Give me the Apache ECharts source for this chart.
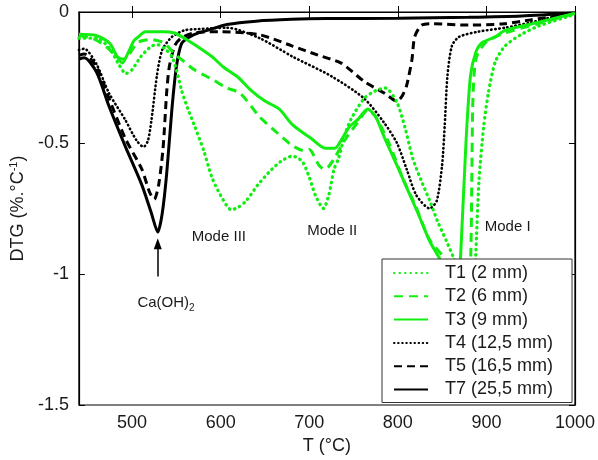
<!DOCTYPE html>
<html>
<head>
<meta charset="utf-8">
<script src="https://cdn.jsdelivr.net/npm/echarts@6/dist/echarts.min.js"></script>
<style>
  html, body { margin: 0; padding: 0; background: #fff; }
  #chart { width: 598px; height: 460px; }
</style>
</head>
<body>
<div id="chart"></div>
<script>
// DTG curves of the samples, [temperature (°C), DTG (%.°C-1)]
const xTicks = [500, 600, 700, 800, 900, 1000];
const yTicks = [0, -0.5, -1, -1.5];
const seriesNames = ['T1 (2 mm)', 'T2 (6 mm)', 'T3 (9 mm)', 'T4 (12,5 mm)', 'T5 (16,5 mm)', 'T7 (25,5 mm)'];

const t1 = [[440,-0.1],[460,-0.1],[475,-0.14],[485,-0.2],[493,-0.235],[500,-0.22],[510,-0.17],[522,-0.13],[529,-0.125],[537,-0.14],[545,-0.17],[550,-0.22],[556,-0.3],[563,-0.37],[570,-0.43],[581,-0.53],[590,-0.63],[600,-0.7],[612,-0.755],[620,-0.745],[629,-0.72],[642,-0.66],[655,-0.61],[668,-0.57],[681,-0.55],[692,-0.57],[700,-0.63],[707,-0.7],[716,-0.75],[722,-0.7],[728,-0.6],[733,-0.56],[740,-0.47],[747,-0.41],[762,-0.33],[775,-0.3],[786,-0.29],[799,-0.345],[808,-0.44],[817,-0.56],[826,-0.64],[836,-0.72],[845,-0.8],[855,-0.875],[863,-0.94],[872,-1.05],[880,-1.12],[886,-1.05],[888,-0.925],[891.6,-0.645],[897,-0.435],[902.4,-0.305],[910,-0.19],[921,-0.13],[938.7,-0.087],[958,-0.055],[994,-0.015],[1000,-0.008]];

const t2 = [[440,-0.09],[455,-0.1],[470,-0.13],[483,-0.17],[490,-0.18],[497,-0.16],[505,-0.12],[511,-0.11],[522,-0.105],[530,-0.11],[537,-0.12],[548,-0.16],[559,-0.19],[570,-0.22],[592,-0.26],[607,-0.29],[622,-0.31],[644,-0.4],[660,-0.45],[681,-0.51],[695,-0.53],[700,-0.525],[711,-0.585],[717,-0.6],[722,-0.59],[729,-0.555],[740,-0.49],[755,-0.42],[766,-0.375],[775,-0.4],[790,-0.5],[805,-0.63],[820,-0.74],[836,-0.87],[855,-0.95],[866,-1.05],[874,-1.1],[880,-1.05],[882.4,-0.925],[883.6,-0.62],[884.5,-0.37],[886,-0.245],[889,-0.17],[899,-0.117],[921,-0.08],[958,-0.045],[1000,-0.005]];

const t3 = [[440,-0.085],[460,-0.09],[475,-0.12],[483,-0.17],[489,-0.195],[495,-0.16],[502,-0.11],[507,-0.095],[515,-0.075],[535,-0.075],[548,-0.08],[559,-0.1],[573,-0.13],[590,-0.17],[603,-0.21],[620,-0.25],[633,-0.295],[650,-0.34],[666,-0.37],[681,-0.43],[703,-0.485],[718,-0.52],[729,-0.52],[736,-0.49],[745,-0.44],[755,-0.41],[766,-0.37],[775,-0.4],[785,-0.48],[799,-0.585],[810,-0.67],[823,-0.77],[836,-0.875],[847,-0.94],[858,-1.02],[865,-1.05],[869,-1.0],[871,-0.925],[877,-0.495],[882,-0.245],[888,-0.155],[895,-0.117],[910,-0.095],[921,-0.07],[958,-0.04],[994,-0.01],[1000,-0.005]];

const t4 = [[440,-0.145],[446,-0.14],[460,-0.2],[474,-0.31],[492,-0.41],[505,-0.49],[513,-0.515],[518,-0.49],[522,-0.41],[528,-0.245],[534,-0.145],[545,-0.095],[559,-0.07],[575,-0.065],[607,-0.06],[644,-0.1],[681,-0.17],[725,-0.245],[762,-0.33],[784,-0.42],[799,-0.5],[810,-0.6],[821,-0.7],[836,-0.75],[844,-0.72],[850,-0.585],[853,-0.43],[856,-0.245],[861,-0.13],[869,-0.095],[891,-0.075],[921,-0.06],[950,-0.04],[980,-0.015],[1000,-0.005]];

const t5 = [[440,-0.165],[446,-0.16],[460,-0.21],[474,-0.33],[492,-0.48],[511,-0.6],[520,-0.69],[525,-0.715],[530,-0.66],[535,-0.52],[539,-0.31],[542,-0.21],[548,-0.13],[555,-0.1],[570,-0.08],[600,-0.075],[644,-0.087],[681,-0.13],[710,-0.165],[736,-0.195],[762,-0.265],[785,-0.31],[799,-0.34],[805,-0.32],[810,-0.28],[816,-0.18],[819,-0.095],[827,-0.05],[840,-0.045],[880,-0.05],[920,-0.045],[950,-0.03],[980,-0.015],[1000,-0.005]];

const t7 = [[440,-0.18],[446,-0.175],[460,-0.23],[474,-0.36],[492,-0.51],[511,-0.66],[522,-0.77],[529,-0.84],[534,-0.77],[539,-0.62],[545,-0.37],[550,-0.21],[556,-0.12],[565,-0.095],[575,-0.08],[590,-0.065],[607,-0.048],[640,-0.035],[680,-0.028],[720,-0.025],[800,-0.024],[880,-0.02],[940,-0.015],[1000,-0.004]];

// Annotation anchors in data coordinates
const modeLabels = [['Mode III', 598, -0.86], ['Mode II', 726, -0.835], ['Mode I', 924, -0.82]];
const arrowFrom = [529, -1.01];
const arrowTo = [529, -0.885];
const caLabelAt = [506, -1.11];

const FONT = '"Liberation Sans", Arial, Helvetica, sans-serif';
const GREEN = '#12ee12';
const BLACK = '#000000';

const styles = [
  { color: GREEN, width: 3.3, type: [0.5, 5], cap: 'round' },
  { color: GREEN, width: 3, type: [9, 6], cap: 'butt' },
  { color: GREEN, width: 3, type: 'solid', cap: 'butt' },
  { color: BLACK, width: 2.6, type: [0.5, 3.6], cap: 'round' },
  { color: BLACK, width: 3, type: [8, 5], cap: 'butt' },
  { color: BLACK, width: 3, type: 'solid', cap: 'butt' }
];
const curves = [t1, t2, t3, t4, t5, t7];

const chart = echarts.init(document.getElementById('chart'), null, { renderer: 'canvas' });

const series = curves.map((d, i) => ({
  name: seriesNames[i],
  type: 'line',
  data: d,
  showSymbol: false,
  symbol: 'none',
  smooth: 0.25,
  lineStyle: styles[i],
  itemStyle: { color: styles[i].color },
  z: 2 + (i >= 3 ? 0 : 1)
}));

// Arrow pointing to the Ca(OH)2 peak
series[5].markLine = {
  silent: true,
  symbol: ['none', 'triangle'],
  symbolSize: [8, 11],
  label: { show: false },
  lineStyle: { color: '#000', width: 1.5, type: 'solid' },
  data: [[{ coord: arrowFrom }, { coord: arrowTo }]]
};

const tickStyle = { show: true, inside: true, length: 6, lineStyle: { color: '#000', width: 1 } };
const labelFont = { fontFamily: FONT, fontSize: 18, color: '#1a1a1a' };
const plainNumber = v => String(v);

chart.setOption({
  animation: false,
  backgroundColor: '#fff',
  grid: { left: 73, right: 20, top: 12, bottom: 51, show: true, borderColor: '#000', borderWidth: 1.2, backgroundColor: 'transparent' },
  legend: {
    data: seriesNames,
    orient: 'vertical',
    left: 382,
    top: 259,
    z: 10,
    backgroundColor: '#fff',
    borderColor: '#333',
    borderWidth: 1,
    borderRadius: 0,
    padding: [5, 19, 4, 11],
    itemWidth: 34,
    itemHeight: 14,
    itemGap: 5.3,
    itemStyle: { opacity: 0 },
    textStyle: { fontFamily: FONT, fontSize: 18, color: '#1a1a1a', lineHeight: 18, padding: [0, 0, 0, 12] }
  },
  xAxis: [{
    type: 'value', min: 440, max: 1000,
    name: 'T (\u00b0C)', nameLocation: 'middle', nameGap: 32,
    nameTextStyle: labelFont,
    axisLine: { show: true, lineStyle: { color: '#000', width: 1.2 } },
    axisTick: Object.assign({ customValues: xTicks }, tickStyle),
    axisLabel: Object.assign({ customValues: xTicks, margin: 9, formatter: plainNumber }, labelFont),
    splitLine: { show: false }
  }, {
    type: 'value', min: 440, max: 1000, position: 'top',
    axisLine: { show: true, lineStyle: { color: '#000', width: 1.2 } },
    axisTick: Object.assign({ customValues: xTicks }, tickStyle),
    axisLabel: { show: false },
    splitLine: { show: false }
  }],
  yAxis: [{
    type: 'value', min: -1.5, max: 0, interval: 0.5,
    name: 'DTG (%.\u00b0C{sup|-1})', nameLocation: 'middle', nameGap: 47,
    nameTextStyle: Object.assign({}, labelFont, {
      rich: { sup: { fontFamily: FONT, fontSize: 11, color: '#1a1a1a', verticalAlign: 'top', padding: [0, 0, 9, 0] } }
    }),
    axisLine: { show: true, lineStyle: { color: '#000', width: 1.2 } },
    axisTick: tickStyle,
    axisLabel: Object.assign({ margin: 10, customValues: yTicks, formatter: plainNumber }, labelFont),
    splitLine: { show: false }
  }, {
    type: 'value', min: -1.5, max: 0, interval: 0.5, position: 'right',
    axisLine: { show: true, lineStyle: { color: '#000', width: 1.2 } },
    axisTick: tickStyle,
    axisLabel: { show: false },
    splitLine: { show: false }
  }],
  series: series
});

// Text annotations placed through the axes' own scales
const graphics = modeLabels.map(([text, t, v]) => {
  const p = chart.convertToPixel({ xAxisIndex: 0, yAxisIndex: 0 }, [t, v]);
  return {
    type: 'text', x: p[0], y: p[1], z: 20,
    style: { text: text, fontFamily: FONT, fontSize: 15, fill: '#1a1a1a', align: 'center', verticalAlign: 'middle' }
  };
});
const cp = chart.convertToPixel({ xAxisIndex: 0, yAxisIndex: 0 }, caLabelAt);
graphics.push({
  type: 'text', x: cp[0], y: cp[1], z: 20,
  style: {
    text: 'Ca(OH){sub|2}', fontFamily: FONT, fontSize: 15, fill: '#1a1a1a', align: 'left', verticalAlign: 'middle',
    rich: { sub: { fontFamily: FONT, fontSize: 10, fill: '#1a1a1a', padding: [10, 0, 0, 0] } }
  }
});
chart.setOption({ graphic: graphics });
</script>
</body>
</html>
